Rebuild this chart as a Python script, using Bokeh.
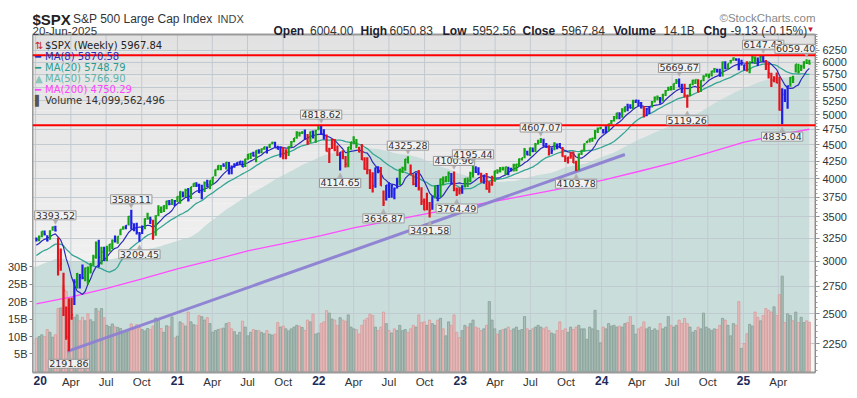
import numpy as np
import pandas as pd
from bokeh.plotting import figure
from bokeh.models import Range1d, LinearAxis, LinearScale, FixedTicker, Label, Span
from bokeh.embed import file_html
from bokeh.resources import INLINE

# ---------------- data (weekly) ----------------
# 2019 weekly closes: warm-up only, used for the moving averages / impulse colours
closes_2019 = [2531.94, 2596.26, 2670.71, 2664.76, 2706.53, 2707.88, 2775.60, 2792.67, 2803.69, 2743.07,
               2822.48, 2800.71, 2834.40, 2892.74, 2907.41, 2905.03, 2939.88, 2945.64, 2881.40, 2859.53,
               2826.06, 2752.06, 2873.34, 2886.98, 2950.46, 2941.76, 2990.41, 3013.77, 2976.61, 3025.86,
               2932.05, 2918.65, 2888.68, 2847.11, 2926.46, 2978.71, 3007.39, 2992.07, 2961.79, 2952.01,
               2970.27, 2986.20, 3022.55, 3066.91, 3093.08, 3120.46, 3110.29, 3140.98, 3145.91, 3168.80,
               3221.22, 3240.02]

closes = [
    # 2020
    3234.85, 3265.35, 3329.62, 3295.47, 3225.52, 3327.71, 3380.16, 3337.75, 2954.22, 2972.37, 2711.02,
    2304.92, 2541.47, 2488.65, 2789.82, 2874.56, 2836.74, 2830.71, 2929.80, 2863.70, 2955.45, 3044.31,
    3193.93, 3041.31, 3097.74, 3009.05, 3130.01, 3185.04, 3224.73, 3215.63, 3271.12, 3351.28, 3372.85,
    3397.16, 3508.01, 3426.96, 3340.97, 3319.47, 3298.46, 3348.44, 3477.13, 3483.81, 3465.39, 3269.96,
    3509.44, 3585.15, 3557.54, 3638.35, 3699.12, 3663.46, 3709.41, 3703.06, 3756.07,
    # 2021
    3824.68, 3768.25, 3841.47, 3714.24, 3886.83, 3934.83, 3906.71, 3811.15, 3841.94, 3943.34, 3913.10,
    3974.54, 4019.87, 4128.80, 4185.47, 4180.17, 4181.17, 4232.60, 4173.85, 4155.86, 4204.11, 4229.89,
    4247.44, 4166.45, 4280.70, 4352.34, 4369.55, 4327.16, 4411.79, 4395.26, 4436.52, 4468.00, 4441.67,
    4509.37, 4535.43, 4458.58, 4432.99, 4455.48, 4357.04, 4391.34, 4471.37, 4544.90, 4605.38, 4697.53,
    4682.85, 4697.96, 4594.62, 4538.43, 4712.02, 4620.64, 4725.79, 4766.18,
    # 2022
    4677.03, 4662.85, 4397.94, 4431.85, 4500.53, 4418.64, 4348.87, 4384.65, 4328.87, 4204.31, 4463.12,
    4543.06, 4545.86, 4488.28, 4392.59, 4271.78, 4131.93, 4123.34, 4023.89, 3901.36, 4158.24, 4108.54,
    3900.86, 3674.84, 3911.74, 3825.33, 3899.38, 3863.16, 3961.63, 4130.29, 4145.19, 4280.15, 4228.48,
    4057.66, 3924.26, 4067.36, 3873.33, 3693.23, 3585.62, 3639.66, 3583.07, 3752.75, 3901.06, 3770.55,
    3992.93, 3965.34, 4026.12, 4071.70, 3934.38, 3852.36, 3844.82, 3839.50,
    # 2023
    3895.08, 3999.09, 3972.61, 4070.56, 4136.48, 4090.46, 4079.09, 3970.04, 4045.64, 3861.59, 3916.64,
    3970.99, 4109.31, 4105.02, 4137.64, 4133.52, 4169.48, 4136.25, 4124.08, 4191.98, 4205.45, 4282.37,
    4298.86, 4409.59, 4348.33, 4450.38, 4398.95, 4505.42, 4536.34, 4582.23, 4478.03, 4464.05, 4369.71,
    4405.71, 4515.77, 4457.49, 4450.32, 4320.06, 4288.05, 4308.50, 4327.78, 4224.16, 4117.37, 4358.34,
    4415.24, 4514.02, 4559.34, 4594.63, 4604.37, 4719.19, 4754.63, 4769.83,
    # 2024
    4697.24, 4783.83, 4839.81, 4890.97, 4958.61, 5026.61, 5005.57, 5088.80, 5137.08, 5123.69, 5117.09,
    5234.18, 5254.35, 5204.34, 5123.41, 4967.23, 5099.96, 5127.79, 5222.68, 5303.27, 5304.72, 5277.51,
    5346.99, 5431.60, 5464.62, 5460.48, 5567.19, 5615.35, 5505.00, 5459.10, 5346.56, 5344.16, 5554.25,
    5634.61, 5648.40, 5408.42, 5626.02, 5702.55, 5738.17, 5751.07, 5815.03, 5864.67, 5808.12, 5728.80,
    5995.54, 5870.62, 5969.34, 6032.38, 6090.27, 6051.09, 5930.85, 5970.84,
    # 2025
    5942.47, 5827.04, 5996.66, 6101.24, 6040.53, 6025.99, 6114.63, 6013.13, 5954.50, 5770.20, 5638.94,
    5667.56, 5580.94, 5074.08, 5363.36, 5282.70, 5525.21, 5686.67, 5659.91, 5958.38, 5802.82, 5911.69,
    6000.36, 5976.97, 5967.84]

highs = [
    3258, 3282, 3330, 3338, 3285, 3342, 3385, 3394, 3259, 3137, 2882, 2562, 2637, 2641, 2818, 2880, 2870,
    2965, 2934, 2945, 2980, 3068, 3212, 3233, 3156, 3155, 3165, 3186, 3235, 3280, 3273, 3352, 3387, 3399,
    3510, 3588, 3425, 3429, 3320, 3397, 3483, 3550, 3501, 3465, 3521, 3646, 3628, 3644, 3702, 3712, 3726,
    3712, 3760,
    3826, 3823, 3861, 3870, 3888, 3937, 3950, 3929, 3915, 3960, 3983, 3978, 4021, 4130, 4192, 4195, 4219,
    4237, 4237, 4187, 4218, 4234, 4249, 4256, 4287, 4356, 4372, 4393, 4415, 4430, 4442, 4470, 4474, 4513,
    4546, 4546, 4486, 4466, 4466, 4429, 4475, 4560, 4608, 4718, 4708, 4717, 4744, 4672, 4713, 4731, 4740,
    4808,
    4819, 4749, 4665, 4454, 4596, 4590, 4490, 4385, 4416, 4327, 4465, 4546, 4637, 4593, 4471, 4513, 4309,
    4308, 4134, 4090, 4158, 4177, 4165, 3838, 3913, 3951, 3919, 3878, 4013, 4140, 4168, 4281, 4325, 4203,
    4062, 4077, 4120, 3880, 3733, 3807, 3686, 3762, 3906, 3912, 4000, 4029, 4034, 4100, 4077, 4101, 3877,
    3878,
    3907, 4004, 4016, 4095, 4195, 4176, 4160, 4082, 4049, 4079, 3964, 4040, 4110, 4133, 4164, 4170, 4170,
    4168, 4154, 4213, 4212, 4291, 4299, 4449, 4408, 4458, 4456, 4528, 4578, 4607, 4595, 4528, 4491, 4459,
    4541, 4521, 4527, 4464, 4339, 4318, 4386, 4394, 4256, 4366, 4415, 4521, 4560, 4597, 4610, 4738, 4779,
    4793,
    4755, 4798, 4842, 4907, 4975, 5030, 5038, 5111, 5141, 5190, 5180, 5262, 5265, 5264, 5222, 5150, 5114,
    5139, 5239, 5325, 5342, 5315, 5376, 5447, 5506, 5524, 5570, 5656, 5670, 5566, 5566, 5358, 5563, 5643,
    5651, 5652, 5636, 5734, 5767, 5765, 5822, 5878, 5863, 5862, 6012, 6018, 5973, 6045, 6099, 6085, 6080,
    6049,
    5949, 6021, 6012, 6128, 6120, 6101, 6128, 6147, 6044, 5986, 5785, 5715, 5787, 5703, 5481, 5460, 5528,
    5700, 5721, 5959, 5968, 5944, 6017, 6059, 6051]

lows = [
    3213, 3215, 3262, 3280, 3214, 3234, 3335, 3328, 2855, 2901, 2479, 2281, 2192, 2447, 2575, 2728, 2728,
    2817, 2798, 2767, 2873, 2954, 3026, 2936, 2966, 3004, 2999, 3101, 3127, 3201, 3189, 3285, 3347, 3354,
    3397, 3349, 3330, 3292, 3209, 3297, 3354, 3467, 3415, 3234, 3279, 3511, 3547, 3560, 3594, 3645, 3648,
    3636, 3687,
    3663, 3750, 3753, 3694, 3725, 3885, 3885, 3805, 3723, 3816, 3885, 3853, 3917, 4034, 4119, 4118, 4168,
    4128, 4056, 4061, 4155, 4185, 4208, 4164, 4165, 4271, 4281, 4321, 4234, 4361, 4371, 4422, 4367, 4450,
    4507, 4457, 4427, 4306, 4279, 4278, 4329, 4460, 4540, 4595, 4630, 4672, 4585, 4495, 4532, 4600, 4531,
    4733,
    4662, 4582, 4395, 4223, 4435, 4401, 4327, 4115, 4279, 4157, 4161, 4424, 4507, 4450, 4381, 4268, 4124,
    4062, 3859, 3810, 3875, 4074, 3900, 3637, 3705, 3739, 3742, 3722, 3864, 3911, 4079, 4112, 4218, 4057,
    3907, 3886, 3838, 3648, 3584, 3584, 3492, 3590, 3731, 3698, 3749, 3907, 3949, 3954, 3919, 3828, 3764,
    3783,
    3794, 3877, 3886, 3949, 4016, 4080, 4047, 3943, 3928, 3847, 3809, 3901, 3957, 4069, 4085, 4114, 4049,
    4048, 4099, 4099, 4103, 4166, 4261, 4292, 4337, 4328, 4385, 4390, 4504, 4528, 4474, 4454, 4335, 4357,
    4414, 4431, 4448, 4316, 4238, 4217, 4285, 4223, 4104, 4113, 4342, 4394, 4525, 4537, 4547, 4587, 4687,
    4752,
    4682, 4688, 4714, 4832, 4880, 4918, 4920, 4946, 5038, 5057, 5105, 5094, 5204, 5147, 5107, 4953, 4969,
    5011, 5124, 5212, 5257, 5191, 5234, 5331, 5428, 5434, 5447, 5559, 5497, 5391, 5306, 5119, 5330, 5535,
    5561, 5402, 5406, 5615, 5703, 5674, 5707, 5784, 5787, 5702, 5707, 5853, 5849, 5973, 6030, 6030, 5832,
    5932,
    5829, 5809, 5773, 6001, 5962, 5923, 6003, 6009, 5837, 5667, 5505, 5597, 5573, 5069, 4835, 5221, 5101,
    5508, 5579, 5786, 5767, 5816, 5862, 5964, 5953]

# weekly volume, billions of shares
volumes_b = [
    # 2020
    9.5, 10.0, 10.5, 10.0, 12.0, 11.2, 9.8, 10.5, 18.0, 18.2, 24.6, 23.0, 20.5, 16.5, 15.5, 16.2, 14.5,
    15.5, 14.5, 16.5, 14.8, 14.2, 18.0, 17.2, 18.0, 15.4, 13.2, 12.8, 13.6, 12.8, 12.6, 12.3, 10.8, 11.3,
    11.4, 13.6, 12.3, 13.4, 12.6, 12.0, 11.6, 12.3, 12.0, 13.0, 15.3, 14.6, 12.3, 11.2, 13.1, 12.8, 15.6,
    9.6, 10.1,
    # 2021
    14.2, 13.7, 13.0, 17.0, 14.2, 13.4, 13.2, 16.0, 15.7, 14.7, 15.4, 13.7, 11.2, 11.7, 12.0, 12.2, 12.4,
    13.7, 14.0, 12.2, 11.4, 10.4, 11.2, 14.4, 12.7, 10.2, 11.2, 12.0, 11.7, 11.7, 11.2, 10.8, 11.7, 10.7,
    10.4, 10.7, 14.0, 12.7, 13.0, 12.2, 11.6, 12.2, 12.7, 13.2, 13.0, 12.6, 11.7, 14.7, 14.2, 16.4, 10.7,
    11.0,
    # 2022
    13.7, 14.2, 17.4, 16.7, 15.0, 14.7, 13.2, 15.4, 14.7, 14.4, 16.2, 12.7, 12.2, 12.0, 10.7, 13.2, 14.7,
    15.2, 16.4, 16.0, 12.7, 11.7, 12.7, 17.0, 13.7, 11.7, 11.0, 12.2, 11.7, 13.2, 11.7, 12.0, 11.2, 12.2,
    13.2, 12.7, 16.2, 14.0, 14.2, 13.2, 14.7, 13.7, 13.2, 14.7, 15.2, 12.2, 10.2, 14.2, 13.2, 16.2, 11.2,
    9.7,
    # 2023
    11.7, 13.2, 12.7, 13.7, 14.7, 12.7, 12.4, 11.7, 12.2, 13.2, 20.0, 14.7, 12.2, 10.7, 11.7, 12.0, 12.2,
    12.7, 11.7, 12.2, 12.7, 11.7, 12.0, 15.7, 12.2, 11.7, 12.2, 12.7, 13.2, 12.7, 12.2, 12.7, 11.7, 11.0,
    10.7, 11.7, 14.2, 11.7, 12.2, 11.2, 12.7, 12.0, 12.7, 13.2, 12.2, 12.2, 9.2, 12.7, 12.2, 17.5, 11.7,
    8.2,
    # 2024
    12.7, 12.2, 13.7, 13.0, 13.2, 12.7, 13.0, 12.7, 13.7, 14.0, 15.7, 13.2, 10.7, 12.2, 12.7, 14.2, 12.2,
    12.7, 11.7, 12.2, 11.7, 13.7, 12.2, 12.7, 15.7, 13.2, 12.7, 13.2, 14.7, 13.7, 15.2, 13.7, 12.7, 11.2,
    11.7, 12.7, 12.2, 16.7, 12.7, 12.2, 11.7, 12.2, 12.0, 13.2, 15.2, 14.7, 13.2, 10.2, 13.7, 13.2, 20.0,
    6.6,
    # 2025
    8.0, 10.8, 13.5, 13.0, 17.0, 15.5, 14.5, 16.0, 18.0, 17.5, 17.0, 18.5, 16.0, 22.0, 27.3, 14.0, 16.5,
    16.0, 14.5, 17.0, 14.0, 15.5, 14.0, 14.5, 14.1]

# MA(200) line (too long to derive from the visible weeks)
ma200_dates = ["2020-01-03", "2020-04-03", "2020-07-03", "2020-10-02", "2021-01-01", "2021-04-02",
               "2021-07-02", "2021-10-01", "2022-01-07", "2022-04-01", "2022-07-01", "2022-10-07",
               "2023-01-06", "2023-04-06", "2023-07-07", "2023-10-06", "2024-01-05", "2024-04-05",
               "2024-07-05", "2024-10-04", "2025-01-03", "2025-04-04", "2025-06-20"]
ma200_vals = [2585, 2650, 2730, 2820, 2920, 3010, 3110, 3190, 3280, 3370, 3450, 3540,
              3620, 3700, 3790, 3880, 3980, 4100, 4230, 4380, 4540, 4660, 4750]

# annotated highs / lows
ann_dates = ["2020-02-21", "2020-03-27", "2020-09-04", "2020-09-25", "2022-01-07", "2022-02-25",
             "2022-08-19", "2022-06-17", "2022-10-14", "2022-12-16", "2023-02-03", "2022-12-23",
             "2023-07-28", "2023-10-27", "2024-07-19", "2024-08-09", "2025-02-21", "2025-04-11",
             "2025-06-13"]
ann_values = [3393.52, 2191.86, 3588.11, 3209.45, 4818.62, 4114.65, 4325.28, 3636.87, 3491.58,
              4100.96, 4195.44, 3764.49, 4607.07, 4103.78, 5669.67, 5119.26, 6147.43, 4835.04, 6059.40]
ann_side = ["up", "down", "up", "down", "up", "down", "up", "down", "down", "up", "up", "down",
            "up", "down", "up", "down", "up", "down", "up"]

resistance_levels = [4818.62, 6147.43]
trend_dates = ["2020-03-23", "2024-03-01"]
trend_values = [2191.86, 4350.0]

price_ticks = [2250, 2500, 2750, 3000, 3250, 3500, 3750, 4000, 4250, 4500, 4750, 5000, 5250, 5500,
               5750, 6000, 6250]
vol_ticks = [5, 10, 15, 20, 25, 30]
vol_tick_labels = ["5B", "10B", "15B", "20B", "25B", "30B"]

legend_rows = ["$SPX (Weekly) 5967.84", "MA(8) 5870.58", "MA(20) 5748.79", "MA(50) 5766.90",
               "MA(200) 4750.29", "Volume 14,099,562,496"]
header_items = [("Open", "6004.00"), ("High", "6050.83"), ("Low", "5952.56"), ("Close", "5967.84"),
                ("Volume", "14.1B"), ("Chg", "-9.13 (-0.15%)")]

assert len(closes) == len(highs) == len(lows) == len(volumes_b) == 286

# ---------------- derived series ----------------
dates = pd.date_range("2020-01-03", periods=len(closes), freq="W-FRI")
allc = np.array(closes_2019 + closes, dtype=float)
n0 = len(closes_2019)


def ema(x, n):
    a = 2.0 / (n + 1)
    out = np.empty_like(x)
    out[0] = x[0]
    for i in range(1, len(x)):
        out[i] = a * x[i] + (1 - a) * out[i - 1]
    return out


e13 = ema(allc, 13)
macd = ema(allc, 12) - ema(allc, 26)
hist = macd - ema(macd, 9)
GREEN, RED, BLUE = "#13a313", "#e3141c", "#1f1fe6"
bar_colors = []
for i in range(n0, len(allc)):
    if e13[i] > e13[i - 1] and hist[i] > hist[i - 1]:
        bar_colors.append(GREEN)
    elif e13[i] < e13[i - 1] and hist[i] < hist[i - 1]:
        bar_colors.append(RED)
    else:
        bar_colors.append(BLUE)

s = pd.Series(allc)
ma8 = s.rolling(8).mean().values[n0:]
ma20 = s.rolling(20).mean().values[n0:]
ma50 = s.rolling(50, min_periods=1).mean().values[n0:]

prev = allc[n0 - 1:-1]
vol_up = allc[n0:] >= prev
vfill = ["#aabdb7" if u else "#e6bcbc" for u in vol_up]
vline = ["#86a097" if u else "#d79a9a" for u in vol_up]


def ms(d):
    return pd.Timestamp(d).value / 1e6


# ---------------- layout (page pixels) ----------------
W, H = 855, 396
IL, IR, IT, IB = 32, 815, 34, 372          # visible plot box
Y0, Y1 = 2036.0, 6607.0                    # price range of the plot box (log)
V0, V1 = -0.3, 96.5                        # volume range of the plot box (billions)
X0, X1 = ms("2019-12-24"), ms("2025-07-06")

k = np.log(Y1 / Y0) / (IB - IT)
fy_top = float(np.exp(np.log(Y1) + IT * k))
fy_bot = float(np.exp(np.log(Y0) - (H - IB) * k))
kv = (V1 - V0) / (IB - IT)
fv_top = V1 + IT * kv
fv_bot = V0 - (H - IB) * kv

p = figure(width=W, height=H, title=None, x_axis_type="datetime", y_axis_type="log",
           y_axis_location="right", x_range=Range1d(X0, X1), y_range=Range1d(fy_bot, fy_top),
           output_backend="svg", toolbar_location=None,
           min_border_left=IL, min_border_right=W - IR, min_border_top=0, min_border_bottom=0)
p.background_fill_color = "white"
p.border_fill_color = "white"
p.outline_line_color = None
p.xaxis.visible = False
p.xgrid.visible = False

# background gradient inside the plot box (darker at the top)
nb = 40
edges = np.exp(np.linspace(np.log(Y0), np.log(Y1), nb + 1))
gcols = []
for j in range(nb):
    t = j / (nb - 1)
    g = int(round(247 - t * 21))
    gcols.append("#%02x%02x%02x" % (g, g, g))
p.quad(left=X0, right=X1, bottom=edges[:-1], top=edges[1:], fill_color=gcols, line_color=None,
       level="image")

# MA(50) mountain
area_x = [pd.Timestamp(X0, unit="ms")] + list(dates)
area_y = [ma50[0]] + list(ma50)
p.varea(x=area_x, y1=Y0, y2=area_y, fill_color="#c9dddb", level="image")

# grid
quarters = pd.date_range("2020-01-01", "2025-04-01", freq="QS")
p.segment(x0=quarters, y0=Y0, x1=quarters, y1=Y1, line_color="#c2cad1", line_width=1, level="underlay")
p.ygrid.grid_line_color = "#c2cad1"

# price axis (right, log)
ya = p.yaxis[0]
ya.bounds = (Y0, Y1)
ya.ticker = FixedTicker(ticks=price_ticks, minor_ticks=list(range(2050, 6650, 50)))
ya.major_label_overrides = {t: str(t) for t in price_ticks}
ya.major_label_text_font = "Liberation Sans"
ya.major_label_text_font_size = "11px"
ya.major_label_text_color = "#333333"
ya.axis_line_color = "#8a8a8a"
ya.major_tick_line_color = "#8a8a8a"
ya.minor_tick_line_color = "#9a9a9a"
ya.major_tick_in = 0
ya.major_tick_out = 4
ya.minor_tick_in = 0
ya.minor_tick_out = 2
ya.major_label_standoff = 3

# volume axis (left, linear)
p.extra_y_ranges = {"vol": Range1d(fv_bot, fv_top)}
p.extra_y_scales = {"vol": LinearScale()}
va = LinearAxis(y_range_name="vol", ticker=FixedTicker(ticks=vol_ticks, minor_ticks=[]),
                major_label_overrides={t: l for t, l in zip(vol_ticks, vol_tick_labels)})
va.bounds = (V0, V1)
va.major_label_text_font = "Liberation Sans"
va.major_label_text_font_size = "11px"
va.major_label_text_color = "#333333"
va.axis_line_color = "#9a9a9a"
va.major_tick_line_color = "#8a8a8a"
va.major_tick_in = 0
va.major_tick_out = 3
va.major_label_standoff = 2
p.add_layout(va, "left")

# volume bars
p.vbar(x=dates, top=volumes_b, bottom=0, width=5.6 * 86400000, fill_color=vfill, line_color=vline,
       line_width=0.8, y_range_name="vol")

# moving averages and trend line
p.line(pd.to_datetime(ma200_dates), ma200_vals, line_color="#ff4dff", line_width=1.3)
p.line(dates, ma20, line_color="#35a595", line_width=1.3)
p.line(dates, ma8, line_color="#2b2bb5", line_width=1.2)
p.line(pd.to_datetime(trend_dates), trend_values, line_color="#8d7fd3", line_width=3, line_alpha=0.95)

# weekly bars (high-low + close tick)
p.segment(x0=dates, y0=lows, x1=dates, y1=highs, line_color=bar_colors, line_width=2.2)
p.segment(x0=dates, y0=closes, x1=dates + pd.Timedelta(days=3), y1=closes, line_color=bar_colors,
          line_width=1.6)

# plot box outline
p.quad(left=X0, right=X1, bottom=Y0, top=Y1, fill_color=None, line_color="#9a9a9a", line_width=2)

for lvl in resistance_levels:
    p.add_layout(Span(location=lvl, dimension="width", line_color="#ff0000", line_width=2))

# annotations (box + little pointer toward the bar)
for d, v, sd in zip(ann_dates, ann_values, ann_side):
    up = sd == "up"
    xo = -11 if pd.Timestamp(d) > pd.Timestamp("2025-06-01") else 0
    p.add_layout(Label(x=ms(d), y=v, text="\u25bc" if up else "\u25b2", text_align="center",
                       text_baseline="bottom" if up else "top", y_offset=0 if up else -1,
                       text_font="DejaVu Sans", text_font_size="7px", text_color="#b0b0b0"))
    p.add_layout(Label(x=ms(d), y=v, text=f"{v:.2f}", text_align="center",
                       text_baseline="bottom" if up else "top", y_offset=6 if up else -8, x_offset=xo,
                       text_font="DejaVu Sans", text_font_size="9.5px", text_color="#333333",
                       background_fill_color="#f3f3f3", background_fill_alpha=0.95,
                       border_line_color="#999999", border_line_width=1, padding=1))


def put(px, py, text, size, color="#333333", bold=False, font="Liberation Sans", align="left",
        baseline="alphabetic", xdata=None):
    kw = dict(text=text, text_align=align, text_baseline=baseline, text_font=font, text_font_size=size,
              text_font_style="bold" if bold else "normal", text_color=color,
              y=H - py, y_units="screen")
    if xdata is None:
        kw.update(x=px - IL, x_units="screen")
    else:
        kw.update(x=xdata)
    p.add_layout(Label(**kw))


# x tick labels
for q in quarters:
    is_year = q.month == 1
    if q == quarters[0]:
        put(IL + 1, 375, q.strftime("%y"), "12px", "#1d2b5a", bold=True, baseline="top")
        continue
    put(0, 375, q.strftime("%y") if is_year else q.strftime("%b"),
        "12px" if is_year else "11.5px", "#1d2b5a" if is_year else "#333333", bold=is_year,
        align="center", baseline="top", xdata=ms(q))

# header
put(32, 18.5, "$SPX", "15px", "#222222", bold=True)
put(72.5, 18.5, "S&P 500 Large Cap Index", "12px", "#333333")
put(217, 18.5, "INDX", "11px", "#444444")
put(32, 30, "20-Jun-2025", "11.5px", "#333333")
put(815, 17.5, "\u00a9StockCharts.com", "11.5px", "#888888", align="right")
hx = [(273, 309.5), (360, 389), (442, 472), (522, 561), (613, 663), (703, 730)]
for (lab, val), (lx, vx) in zip(header_items, hx):
    put(lx, 30, lab, "12px", "#1e1e30", bold=True)
    put(vx, 30, val, "12px", "#333333")
put(806, 29, "\u25bc", "8px", "#c0143c")

# legend
leg_colors = ["#222222", "#2a2ac0", "#2a9d8f", "#5fb3a5", "#ff44ff", "#333333"]
leg_icons = ["\u21c5", "\u2501", "\u2501", "\u25b2", "\u2501", "\u258c"]
icon_colors = ["#cc2222", "#2a2ac0", "#2a9d8f", "#8cc5bb", "#ff44ff", "#555555"]
for kk, (txt, c, ic, icc) in enumerate(zip(legend_rows, leg_colors, leg_icons, icon_colors)):
    by = 44.5 + 11 * kk
    put(34.5, by, ic, "10px", icc, font="DejaVu Sans")
    put(44.5, by, txt, "10px", c, font="DejaVu Sans")

open("out.html", "w").write(file_html(p, INLINE))
